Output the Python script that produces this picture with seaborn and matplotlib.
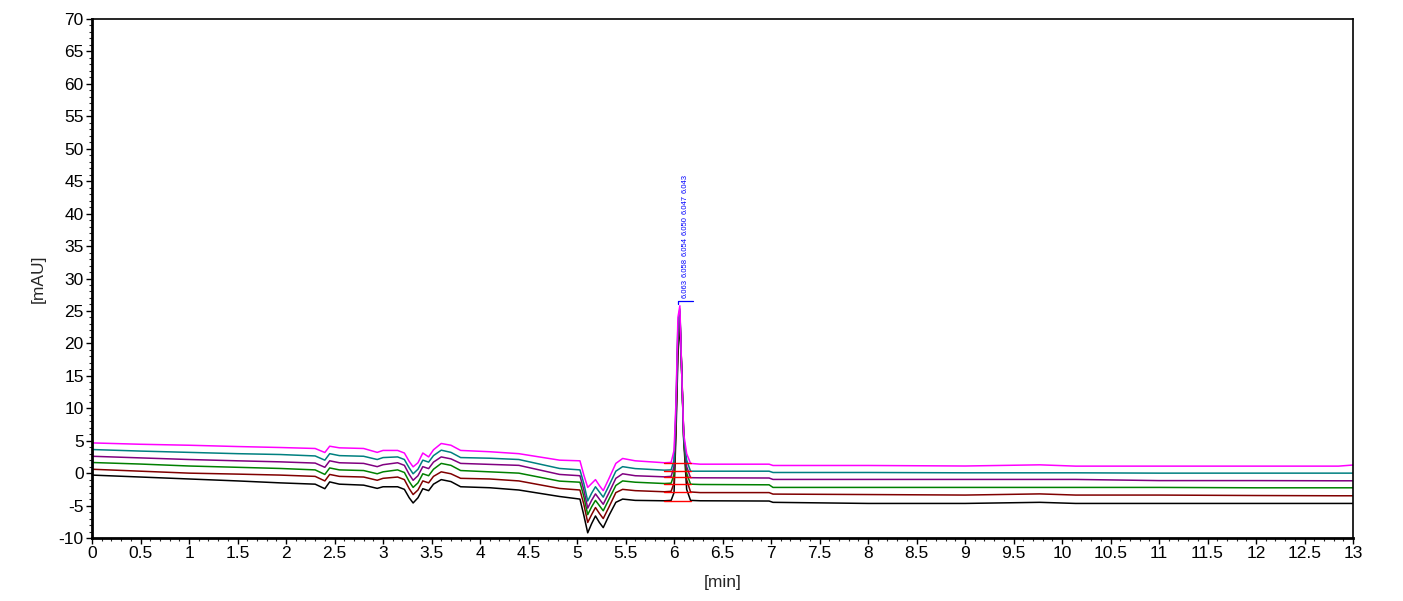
import numpy as np
import pandas as pd
import matplotlib
matplotlib.use("Agg")
import matplotlib.pyplot as plt
from matplotlib.ticker import MultipleLocator, FormatStrFormatter
import seaborn as sns

# ---- data ----
time_min = [0.0, 0.5, 1.0, 1.5, 1.94, 2.30, 2.40, 2.45, 2.55, 2.80, 2.94, 3.00, 3.15, 3.22,
            3.27, 3.31, 3.36, 3.41, 3.47, 3.52, 3.60, 3.70, 3.80, 4.10, 4.40, 4.82, 5.03, 5.07,
            5.11, 5.15, 5.19, 5.23, 5.27, 5.33, 5.40, 5.47, 5.60, 5.90, 5.97, 6.00, 6.02, 6.04,
            6.06, 6.08, 6.10, 6.13, 6.17, 6.27, 6.98, 7.02, 8.0, 9.0, 9.77, 10.14, 11.0, 12.0,
            12.85, 13.0]

run_black = [-0.3, -0.6, -0.9, -1.2, -1.5, -1.7, -2.4, -1.35, -1.7, -1.85, -2.35, -2.1, -2.1, -2.5,
             -3.8, -4.6, -3.8, -2.4, -2.7, -1.7, -1.0, -1.3, -2.1, -2.25, -2.6, -3.6, -4.0, -6.5,
             -9.2, -7.8, -6.6, -7.6, -8.4, -6.5, -4.5, -4.0, -4.2, -4.26, -4.2, -3.0, 6.0, 18.0,
             23.5, 15.0, 5.0, -2.5, -4.2, -4.26, -4.3, -4.5, -4.67, -4.67, -4.5, -4.67, -4.67, -4.67,
             -4.67, -4.67]

run_darkred = [0.6, 0.3, 0.0, -0.15, -0.3, -0.5, -1.2, -0.2, -0.5, -0.6, -1.1, -0.8, -0.6, -1.0,
               -2.4, -3.3, -2.6, -1.2, -1.5, -0.5, 0.2, -0.1, -0.8, -0.9, -1.2, -2.36, -2.6, -4.8,
               -7.6, -6.4, -5.3, -6.2, -7.0, -5.2, -3.0, -2.5, -2.7, -2.87, -2.8, -1.5, 7.5, 20.0,
               24.3, 15.5, 5.5, -1.0, -2.9, -3.0, -3.0, -3.23, -3.3, -3.38, -3.2, -3.38, -3.38, -3.45,
               -3.49, -3.49]

run_green = [1.64, 1.4, 1.1, 0.9, 0.72, 0.5, -0.2, 0.8, 0.5, 0.4, -0.1, 0.2, 0.5, 0.1,
             -1.3, -2.2, -1.5, -0.1, -0.4, 0.6, 1.5, 1.2, 0.4, 0.2, 0.0, -1.23, -1.4, -3.6,
             -6.4, -5.2, -4.2, -5.0, -5.8, -4.0, -1.9, -1.2, -1.4, -1.6, -1.55, -0.2, 8.5, 21.0,
             24.8, 15.0, 5.0, 0.0, -1.7, -1.75, -1.8, -2.2, -2.2, -2.2, -2.2, -2.2, -2.2, -2.26,
             -2.26, -2.26]

run_purple = [2.6, 2.35, 2.1, 1.9, 1.74, 1.55, 0.9, 1.9, 1.6, 1.5, 1.0, 1.3, 1.6, 1.2,
              -0.2, -1.1, -0.4, 1.0, 0.7, 1.7, 2.5, 2.2, 1.5, 1.35, 1.2, -0.2, -0.4, -2.6,
              -5.4, -4.2, -3.2, -4.0, -4.8, -3.0, -0.8, -0.1, -0.4, -0.57, -0.5, 1.0, 9.0, 22.0,
              25.0, 15.5, 5.5, 1.0, -0.7, -0.72, -0.75, -0.97, -0.97, -0.97, -0.97, -0.97, -1.15, -1.15,
              -1.18, -1.18]

run_teal = [3.64, 3.4, 3.2, 3.0, 2.87, 2.65, 2.0, 3.0, 2.7, 2.6, 2.1, 2.4, 2.5, 2.1,
            0.8, -0.1, 0.6, 2.0, 1.7, 2.7, 3.54, 3.2, 2.4, 2.3, 2.1, 0.72, 0.5, -1.6,
            -4.3, -3.1, -2.1, -2.9, -3.7, -1.9, 0.3, 1.0, 0.7, 0.46, 0.5, 2.0, 10.0, 23.0,
            25.3, 15.0, 5.5, 2.0, 0.3, 0.3, 0.3, 0.1, 0.1, 0.05, 0.05, 0.05, 0.0, 0.0,
            0.0, 0.0]

run_magenta = [4.66, 4.45, 4.3, 4.1, 3.95, 3.8, 3.18, 4.15, 3.9, 3.8, 3.2, 3.5, 3.5, 3.1,
               1.8, 0.97, 1.6, 3.1, 2.5, 3.6, 4.57, 4.3, 3.5, 3.3, 3.0, 2.0, 1.9, -0.3,
               -2.2, -1.6, -1.0, -1.9, -2.7, -0.8, 1.5, 2.26, 1.9, 1.6, 1.65, 3.5, 11.0, 24.0,
               25.8, 15.0, 6.0, 3.0, 1.5, 1.38, 1.38, 1.18, 1.18, 1.1, 1.28, 1.08, 1.08, 1.08,
               1.08, 1.25]

run_names = ["run 1", "run 2", "run 3", "run 4", "run 5", "run 6"]
run_colors = ["#000000", "#800000", "#008000", "#800080", "#008080", "#ff00ff"]

# peak integration baselines (start, end of peak, level per run)
peak_start = 5.90
peak_end = 6.17
baseline_levels = [-4.3, -2.9, -1.7, -0.66, 0.35, 1.6]

# peak labels (retention times) per run
peak_label_text = ["6.063", "6.058", "6.054", "6.050", "6.047", "6.043"]

x_ticks = [i * 0.5 for i in range(27)]
y_ticks = list(range(-10, 71, 5))

# ---- build long-form table ----
runs = [run_black, run_darkred, run_green, run_purple, run_teal, run_magenta]
frames = []
for name, vals in zip(run_names, runs):
    frames.append(pd.DataFrame({"time": time_min, "signal": vals, "run": name}))
df = pd.concat(frames, ignore_index=True)

# ---- plot ----
sns.set_style("ticks")
plt.rcParams["font.family"] = ["Liberation Sans", "DejaVu Sans"]

fig = plt.figure(figsize=(14.03, 6.01), dpi=100)
ax = fig.add_axes([0.0656, 0.1048, 0.8988, 0.8636])

sns.lineplot(data=df, x="time", y="signal", hue="run", hue_order=run_names,
             palette=run_colors, estimator=None, sort=False, legend=False,
             linewidth=1.1, ax=ax)

# red integration baselines
for lvl in baseline_levels:
    ax.plot([peak_start, peak_end], [lvl, lvl], color="#ff0000", linewidth=1.0, zorder=3)

# blue peak labels: a stacked column of rotated retention times above the peak
ax.plot([6.045, 6.045, 6.20], [26.0, 26.6, 26.6], color="#0000ff", linewidth=0.9)
for i, txt in enumerate(peak_label_text):
    ax.text(6.11, 27.0 + 3.25 * i, txt, rotation=90, color="#0000ff",
            fontsize=5.5, ha="center", va="bottom")

ax.set_xlim(0, 13)
ax.set_ylim(-10, 70)
ax.set_xticks(x_ticks)
ax.set_yticks(y_ticks)
ax.xaxis.set_major_formatter(FormatStrFormatter("%g"))
ax.yaxis.set_major_formatter(FormatStrFormatter("%g"))
ax.xaxis.set_minor_locator(MultipleLocator(0.1))
ax.yaxis.set_minor_locator(MultipleLocator(1))
ax.tick_params(axis="both", which="major", direction="out", length=4, width=1,
               labelsize=12.5, colors="black", pad=2)
ax.tick_params(axis="both", which="minor", direction="out", length=2, width=0.8)

ax.set_xlabel("[min]", fontsize=12.5, labelpad=10)
ax.set_ylabel("[mAU]", fontsize=12.5, labelpad=9)

for side in ["left", "bottom"]:
    ax.spines[side].set_linewidth(2.0)
for side in ["top", "right"]:
    ax.spines[side].set_linewidth(1.2)
for s in ax.spines.values():
    s.set_color("black")

fig.savefig("out.png", dpi=100)
